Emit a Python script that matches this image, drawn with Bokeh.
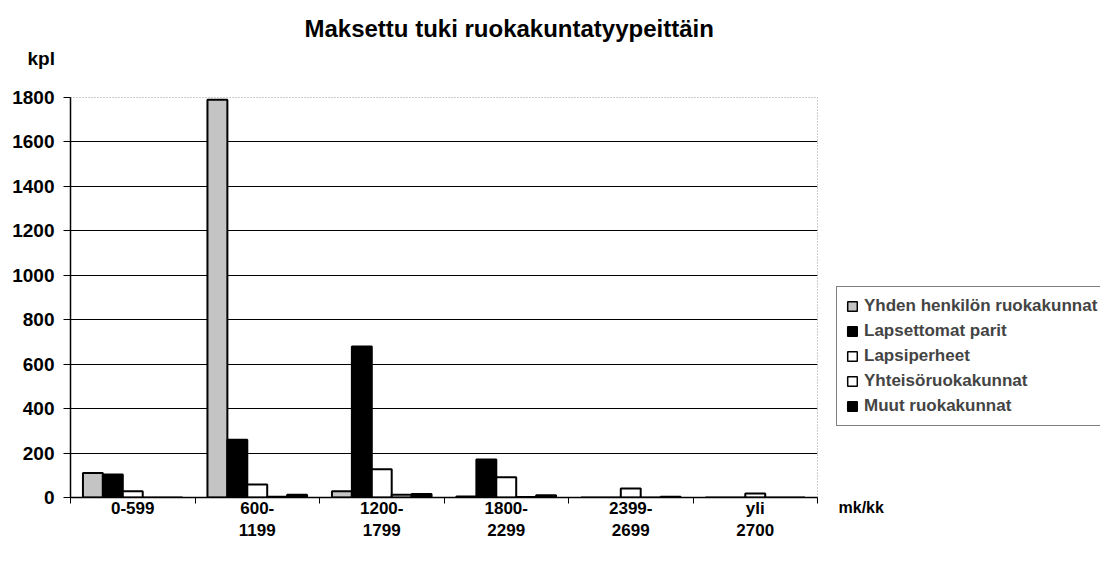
from bokeh.plotting import figure
from bokeh.layouts import column, row
from bokeh.models import (ColumnDataSource, Range1d, FixedTicker, Label, Legend,
                          LegendItem)
from bokeh.embed import file_html
from bokeh.resources import INLINE

categories = ["0-599", "600-\n1199", "1200-\n1799", "1800-\n2299", "2399-\n2699", "yli\n2700"]
series_names = ["Yhden henkilön ruokakunnat", "Lapsettomat parit", "Lapsiperheet",
                "Yhteisöruokakunnat", "Muut ruokakunnat"]
yhden = [110, 1790, 28, 5, 0, 0]
lapsettomat = [103, 260, 680, 171, 0, 0]
lapsiperheet = [28, 58, 127, 91, 40, 18]
yhteiso = [0, 3, 12, 2, 0, 0]
muut = [0, 12, 16, 10, 3, 0]
y_ticks = [0, 200, 400, 600, 800, 1000, 1200, 1400, 1600, 1800]
title_text = "Maksettu tuki  ruokakuntatyypeittäin"
y_unit = "kpl"
x_unit = "mk/kk"

series = [yhden, lapsettomat, lapsiperheet, yhteiso, muut]
fills = ["#c4c4c4", "#000000", "#ffffff", "#ffffff", "#000000"]

FONT = "Liberation Sans"
n = len(categories)
bar_w = 0.8 / 5  # five bars fill 80% of a category

TOTAL_W, TOP_H, MAIN_H = 1100, 87, 473
MAIN_W = 836
SIDE_W = TOTAL_W - MAIN_W


def bare(width, height):
    f = figure(width=width, height=height, output_backend="svg", toolbar_location=None,
               x_axis_type=None, y_axis_type=None,
               x_range=Range1d(0, 1), y_range=Range1d(0, 1),
               min_border_left=0, min_border_right=0, min_border_top=0,
               min_border_bottom=0)
    f.outline_line_color = None
    f.background_fill_color = "#ffffff"
    f.border_fill_color = "#ffffff"
    f.frame_align = False
    return f


# ---- top strip: title and y unit
top = bare(TOTAL_W, TOP_H)
top.add_layout(Label(x=512, y=59, x_units="screen", y_units="screen",
                     text=title_text, text_font=FONT, text_font_style="bold",
                     text_font_size="24px", text_align="center",
                     text_baseline="middle", text_color="#000000"))
top.add_layout(Label(x=27, y=29, x_units="screen", y_units="screen",
                     text=y_unit, text_font=FONT, text_font_style="bold",
                     text_font_size="19px", text_align="left",
                     text_baseline="middle", text_color="#000000"))

# ---- main chart
p = figure(width=MAIN_W, height=MAIN_H, output_backend="svg", toolbar_location=None,
           x_range=Range1d(0, n), y_range=Range1d(0, 1800),
           min_border_left=70, min_border_right=19, min_border_top=10,
           min_border_bottom=63)
p.background_fill_color = "#ffffff"
p.border_fill_color = "#ffffff"
p.outline_line_color = "#9a9a9a"
p.outline_line_dash = "1 2"

for j, (vals, col) in enumerate(zip(series, fills)):
    xs = [i + 0.5 + (j - 2) * bar_w for i in range(n)]
    src = ColumnDataSource(dict(x=xs, top=vals))
    p.vbar(x="x", top="top", bottom=0, width=bar_w, source=src,
           fill_color=col, line_color="#000000", line_width=2)

p.xaxis.ticker = FixedTicker(ticks=[i + 0.5 for i in range(n)],
                             minor_ticks=list(range(n + 1)))
p.xaxis.major_label_overrides = {i + 0.5: c for i, c in enumerate(categories)}
p.xaxis.major_tick_out = 0
p.xaxis.major_tick_in = 0
p.xaxis.minor_tick_out = 6
p.xaxis.minor_tick_in = 0
p.xaxis.minor_tick_line_color = "#000000"
p.xaxis.axis_line_color = "#000000"
p.xaxis.axis_line_width = 1.5
p.xaxis.major_label_text_font = FONT
p.xaxis.major_label_text_font_style = "bold"
p.xaxis.major_label_text_font_size = "17px"
p.xaxis.major_label_text_color = "#000000"
p.xaxis.major_label_standoff = -5

p.yaxis.ticker = FixedTicker(ticks=y_ticks)
p.yaxis.major_tick_out = 7
p.yaxis.major_tick_in = 0
p.yaxis.minor_tick_line_color = None
p.yaxis.axis_line_color = "#000000"
p.yaxis.axis_line_width = 1.5
p.yaxis.major_tick_line_color = "#000000"
p.yaxis.major_label_text_font = FONT
p.yaxis.major_label_text_font_style = "bold"
p.yaxis.major_label_text_font_size = "19px"
p.yaxis.major_label_text_color = "#000000"
p.yaxis.major_label_standoff = 9

p.xgrid.grid_line_color = None
p.ygrid.ticker = FixedTicker(ticks=y_ticks[1:-1])
p.ygrid.grid_line_color = "#000000"
p.ygrid.grid_line_width = 1.2

# ---- side strip: legend and x unit
side = bare(SIDE_W, MAIN_H)
items = []
for j, col in enumerate(fills):
    # legend key only: a hidden stub renderer carrying the series style
    r = side.vbar(x=[0.5], top=[0.0], width=0.0, fill_color=col,
                  line_color="#000000", line_width=1.5, visible=False)
    items.append(LegendItem(label=series_names[j], renderers=[r]))
legend = Legend(items=items, location=(0, 134), orientation="vertical",
                label_text_font=FONT, label_text_font_style="bold",
                label_text_font_size="17px", glyph_width=12, glyph_height=12,
                label_height=20, spacing=5, padding=9, margin=0,
                border_line_color="#000000", border_line_width=1,
                background_fill_color="#ffffff", background_fill_alpha=1,
                inactive_fill_alpha=0.0, label_standoff=6)
side.add_layout(legend, "center")
side.add_layout(Label(x=2, y=53, x_units="screen", y_units="screen",
                      text=x_unit, text_font=FONT, text_font_style="bold",
                      text_font_size="16px", text_align="left",
                      text_baseline="middle", text_color="#000000"))

layout = column(top, row(p, side, spacing=0), spacing=0)
open("out.html", "w").write(file_html(layout, INLINE))
